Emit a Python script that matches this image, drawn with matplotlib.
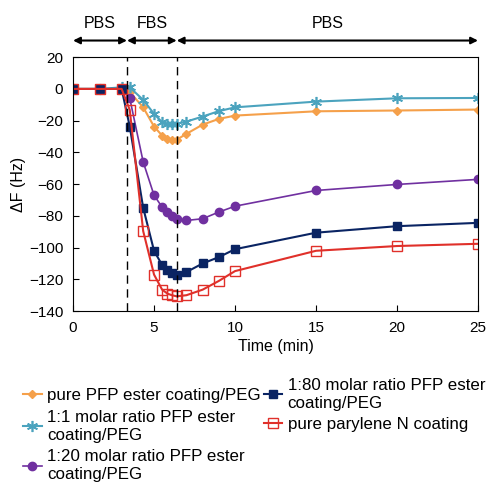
import matplotlib
matplotlib.use('Agg')
from matplotlib import pyplot as plt

plt.rcParams['font.family'] = ['Liberation Sans', 'DejaVu Sans']

time = [0, 1.67, 3, 3.5, 4.33, 5, 5.5, 5.83, 6.1, 6.4, 7, 8, 9, 10, 15, 20, 25]

pure_pfp = [0, 0, 0, -2, -11.6, -23.7, -29.4, -31.5, -32.5, -32, -28.3, -22.5, -18.9, -16.8, -14.1, -13.6, -13]
ratio_1_1 = [0, 0, 1, 1, -6.9, -15.7, -21, -22, -22, -22, -20.6, -17.4, -14, -11.6, -8, -5.9, -5.7]
ratio_1_20 = [0, 0, 0, -5.9, -46, -67, -74.5, -77.6, -80, -81.8, -82.9, -81.8, -77.6, -73.9, -64, -60.2, -57]
ratio_1_80 = [0, 0, 0, -23.7, -74.9, -102, -111, -114, -116, -117, -115.4, -110, -106, -101, -90.6, -86.5, -84.4]
parylene = [0, 0, 0, -13.2, -89.6, -117, -126.5, -129, -130, -130.7, -130, -126.5, -121, -114.8, -102, -99, -97.6]

phases = ['PBS', 'FBS', 'PBS']
phase_edges = [0, 3.33, 6.4, 25]

fig = plt.figure(figsize=(4.87, 4.93), dpi=100)
ax = fig.add_axes([0.150, 0.369, 0.8315, 0.515])

ax.plot(time, pure_pfp, color='#F5A04A', marker='D', markersize=4, lw=1.5,
        label='pure PFP ester coating/PEG')
ax.plot(time, ratio_1_1, color='#4BA3BE', marker=(6, 2, 0), markersize=8, lw=1.5,
        markeredgewidth=1.2, label='1:1 molar ratio PFP ester\ncoating/PEG')
ax.plot(time, ratio_1_20, color='#7030A0', marker='o', markersize=6, lw=1.2,
        label='1:20 molar ratio PFP ester\ncoating/PEG')
ax.plot(time, ratio_1_80, color='#0A2463', marker='s', markersize=6, lw=1.5,
        label='1:80 molar ratio PFP ester\ncoating/PEG')
ax.plot(time, parylene, color='#E0302A', marker='s', markersize=7, lw=1.5,
        markerfacecolor='none', label='pure parylene N coating')

for x in phase_edges[1:3]:
    ax.axvline(x, color='black', linestyle=(0, (6, 4)), lw=1)

ax.set_xlim(0, 25)
ax.set_ylim(-140, 20)
ax.set_xticks([0, 5, 10, 15, 20, 25])
ax.set_yticks(range(-140, 21, 20))
ax.tick_params(axis='x', direction='in', labelsize=11, length=4, pad=7)
ax.tick_params(axis='y', direction='in', labelsize=11, length=4, pad=7)
ax.set_xlabel('Time (min)', fontsize=11.5, labelpad=3)
ax.set_ylabel('ΔF (Hz)', fontsize=11.5, labelpad=2)

# phase arrows above the plot
for i, name in enumerate(phases):
    x0, x1 = phase_edges[i], phase_edges[i + 1]
    ax.annotate('', xy=(x0, 30.5), xytext=(x1, 30.5), annotation_clip=False,
                arrowprops=dict(arrowstyle='<|-|>', color='black', lw=1.5,
                                mutation_scale=10, shrinkA=0, shrinkB=0))
    ax.text((x0 + x1) / 2, 41.5, name, ha='center', va='center', fontsize=11.5,
            clip_on=False)

fig.legend(loc='upper left', bbox_to_anchor=(0.03, 0.25), ncol=2, frameon=False,
           fontsize=12.2, handlelength=1.1, handletextpad=0.3, columnspacing=0.2,
           labelspacing=0.4, borderpad=0)

fig.savefig('out.png', dpi=100)
